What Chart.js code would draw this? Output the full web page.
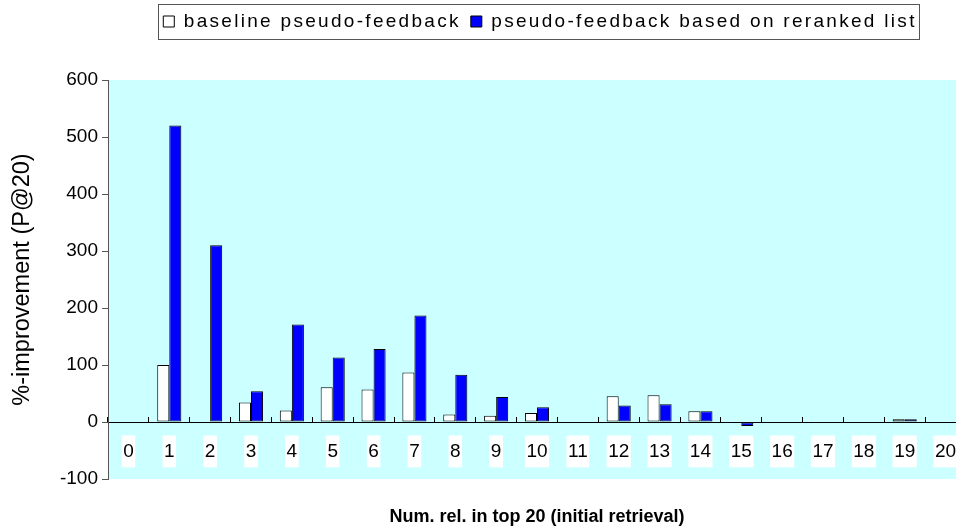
<!DOCTYPE html>
<html>
<head>
<meta charset="utf-8">
<script src="https://cdn.jsdelivr.net/npm/chart.js@4.4.0/dist/chart.umd.min.js"></script>
<style>
html,body{margin:0;padding:0;overflow:hidden;background:#fff;width:956px;height:529px}
#wrap{position:relative;width:966px;height:529px}
</style>
</head>
<body>
<div id="wrap"><canvas id="c" width="966" height="529"></canvas></div>
<script>
// ---- data ----
const categories = ['0','1','2','3','4','5','6','7','8','9','10','11','12','13','14','15','16','17','18','19','20'];
const baselineValues = [0, 100, 0, 34, 20, 61, 57, 87, 13, 11, 16, 0, 45, 47, 19, 0, 0, 0, 0, 5, 0];
const rerankedValues = [0, 520, 310, 54, 171, 113, 128, 187, 83, 44, 26, 0, 29, 31, 19, -7, 0, 0, 0, 5, 0];
const seriesNames = ['baseline pseudo-feedback', 'pseudo-feedback based on reranked list'];
const yMin = -100, yMax = 600, yStep = 100;
const xTitle = 'Num. rel. in top 20 (initial retrieval)';
const yTitle = '%-improvement (P@20)';

const FONT = "'Liberation Sans', Arial, sans-serif";
const LEGEND_CX = 540, LEGEND_TOP = 2, LEGEND_SPACING = '2.3px';

const bgPlugin = {
  id: 'bg',
  beforeDraw(chart) {
    const {ctx, chartArea: a} = chart;
    ctx.save();
    ctx.fillStyle = '#ffffff';
    ctx.fillRect(0, 0, chart.width, chart.height);
    ctx.fillStyle = '#CCFFFF';
    ctx.fillRect(a.left, a.top, a.right - a.left, a.bottom - a.top);
    ctx.restore();
  }
};

const legendPlugin = {
  id: 'legendTweak',
  beforeInit(chart) {
    const lg = chart.legend;
    if (!lg) return;
    const origFit = lg.fit, origDraw = lg.draw;
    lg.fit = function (...args) {
      const ctx = this.ctx; ctx.save(); ctx.letterSpacing = LEGEND_SPACING;
      const r = origFit.apply(this, args); ctx.restore(); return r;
    };
    lg.draw = function (...args) {
      const ctx = this.ctx; ctx.save(); ctx.letterSpacing = LEGEND_SPACING;
      const r = origDraw.apply(this, args); ctx.restore();
      const p = this.options.labels.padding;
      const lw = this.lineWidths[0];
      const start = (this.left + p + this.right - lw) / 2;
      const end = start + lw - p;
      ctx.save();
      ctx.strokeStyle = '#555';
      ctx.lineWidth = 1;
      ctx.strokeRect(Math.round(start - 5) + 0.5, 4.5, Math.round(end - start + 8), 35);
      ctx.restore();
      return r;
    };
  },
  afterLayout(chart) {
    const lg = chart.legend;
    const h = lg.height, w = lg.right - lg.left;
    lg.top = LEGEND_TOP; lg.bottom = LEGEND_TOP + h;
    lg.left = LEGEND_CX - w / 2; lg.right = LEGEND_CX + w / 2;
  }
};

new Chart(document.getElementById('c'), {
  type: 'bar',
  data: {
    labels: categories,
    datasets: [
      { label: seriesNames[0], data: baselineValues, backgroundColor: '#FFFFFF', borderColor: '#000000', borderWidth: 1, borderSkipped: false, xAxisID: 'x' },
      { label: seriesNames[1], data: rerankedValues, backgroundColor: '#0000FF', borderColor: '#000000', borderWidth: 1, borderSkipped: false, xAxisID: 'x' }
    ]
  },
  options: {
    responsive: false,
    animation: false,
    devicePixelRatio: 1,
    layout: { padding: { top: 41, left: 0, right: 0, bottom: 0 } },
    datasets: { bar: { categoryPercentage: 0.59, barPercentage: 1.0 } },
    plugins: {
      tooltip: { enabled: false },
      legend: {
        display: true,
        position: 'top',
        align: 'center',
        labels: { font: { family: FONT, size: 19 }, color: '#000', boxWidth: 11, boxHeight: 11, padding: 10 }
      }
    },
    scales: {
      x: {
        type: 'category',
        position: 'bottom',
        offset: true,
        ticks: { display: false },
        grid: { display: false, drawTicks: false },
        border: { display: false },
        title: { display: true, text: xTitle, color: '#000', font: { family: FONT, size: 18, weight: 'bold' }, padding: { top: 27.4, bottom: 1 } },
        afterFit(scale) { scale.paddingLeft = 0; scale.paddingRight = 0; }
      },
      x2: {
        type: 'category',
        position: { y: 0 },
        offset: true,
        ticks: { display: true, color: '#000', font: { family: FONT, size: 19 }, padding: 24, maxRotation: 0, autoSkip: false,
                 showLabelBackdrop: true, backdropColor: '#FFFFFF', backdropPadding: { x: 1.5, y: 4.5 } },
        grid: { display: true, drawOnChartArea: false, drawTicks: true, tickLength: -6, color: '#000', offset: true },
        border: { display: true, color: '#000', width: 1 },
        afterFit(scale) { scale.paddingLeft = 0; scale.paddingRight = 0; }
      },
      y: {
        type: 'linear',
        position: 'left',
        min: yMin, max: yMax,
        afterFit(scale) { scale.width = 108; },
        ticks: { stepSize: yStep, color: '#000', font: { family: FONT, size: 19 }, padding: 4 },
        grid: { display: true, drawOnChartArea: false, drawTicks: true, tickLength: 6, color: '#555' },
        border: { display: true, color: '#555', width: 1 },
        title: { display: true, text: yTitle, color: '#000', font: { family: FONT, size: 23.5 }, padding: { top: 8, bottom: 0 } }
      }
    }
  },
  plugins: [bgPlugin, legendPlugin]
});
</script>
</body>
</html>
